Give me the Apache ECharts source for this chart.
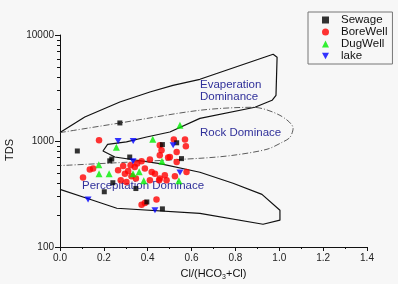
<!DOCTYPE html>
<html>
<head>
<meta charset="utf-8">
<script src="https://cdn.jsdelivr.net/npm/echarts@6/dist/echarts.min.js"></script>
<style>
  html, body { margin: 0; padding: 0; background: #f7f7f7; }
  #chart { width: 398px; height: 284px; }
</style>
</head>
<body>
<div id="chart"></div>
<script>
// sample points, Cl/(HCO3+Cl) vs TDS
var sewageX = [0.079, 0.273, 0.227, 0.236, 0.318, 0.467, 0.532, 0.554, 0.241, 0.202, 0.346, 0.396, 0.467];
var sewageTDS = [805, 1480, 650, 676, 706, 925, 962, 682, 404, 332, 356, 266, 229];

var boreX = [0.178, 0.519, 0.570, 0.455, 0.463, 0.455, 0.532, 0.493, 0.532, 0.410, 0.372, 0.352, 0.322, 0.341,
    0.288, 0.265, 0.311, 0.296, 0.277, 0.303, 0.326, 0.346, 0.387, 0.418, 0.433, 0.455, 0.478, 0.486, 0.524,
    0.577, 0.410, 0.452, 0.151, 0.136, 0.105, 0.372, 0.387, 0.440, 0.574, 0.501];
var boreTDS = [1016, 1031, 1031, 910, 817, 733, 787, 697, 634, 668, 643, 612, 590, 569,
    581, 529, 521, 492, 426, 410, 465, 442, 549, 510, 492, 442, 475, 426, 465,
    510, 426, 426, 549, 537, 452, 251, 260, 280, 891, 706];

var dugX = [0.547, 0.423, 0.257, 0.465, 0.177, 0.178, 0.224, 0.333, 0.361, 0.382, 0.542];
var dugTDS = [1406, 1038, 873, 643, 596, 491, 491, 491, 514, 422, 422];

var lakeX = [0.265, 0.334, 0.516, 0.333, 0.547, 0.128, 0.433];
var lakeTDS = [1000, 1000, 910, 643, 504, 280, 222];

// Gibbs boundary (solid) and rock dominance envelope (dash-dot)
var outerX = [0, 0.113, 0.273, 0.410, 0.515, 0.638, 0.972, 0.990, 0.985, 0.967, 0.889, 0.638, 0.501, 0.395,
    0.303, 0.217, 0.196, 0.250, 0.455, 0.638, 0.789, 0.921, 1.003, 1.003, 0.926, 0.638, 0.259, 0.136, 0];
var outerTDS = [1200, 1683, 2333, 2897, 3350, 3820, 6580, 6170, 2700, 2420, 2080, 1636, 1216, 1091,
    980, 931, 805, 706, 612, 507, 399, 314, 222, 179, 164, 208, 232, 282, 350];
var rockX = [0, 0.273, 0.638, 0.880, 1.003, 1.063, 1.049, 1.013, 0.944, 0.789, 0.638, 0];
var rockTDS = [1200, 1479, 1950, 2080, 1746, 1318, 1084, 972, 836, 733, 687, 586];

var yMinorTicks = [200, 300, 400, 500, 600, 700, 800, 900, 2000, 3000, 4000, 5000, 6000, 7000, 8000, 9000];

function pairs(xs, ys) {
    var res = [];
    for (var i = 0; i < xs.length; i++) {
        res.push([xs[i], ys[i]]);
    }
    return res;
}

var fontFamily = '"Liberation Sans", Arial, sans-serif';
var regionColor = '#30309a';

var _chart = echarts.init(document.getElementById('chart'));
var _option = {
    backgroundColor: '#f7f7f7',
    animation: false,
    textStyle: { fontFamily: fontFamily },
    grid: { left: 60, right: 31, top: 35, bottom: 37, containLabel: false, outerBoundsMode: 'none' },
    legend: {
        orient: 'vertical',
        left: 308,
        top: 12,
        padding: [2, 5, 2, 14],
        itemGap: 0,
        itemWidth: 7,
        itemHeight: 7,
        backgroundColor: '#f7f7f7',
        borderColor: '#777',
        borderWidth: 1,
        borderRadius: 0,
        textStyle: { fontSize: 11.5, color: '#111', lineHeight: 12, padding: [0, 0, 0, 7], fontFamily: fontFamily },
        data: ['Sewage', 'BoreWell', 'DugWell', 'lake']
    },
    xAxis: {
        type: 'value',
        min: 0,
        max: 1.4,
        interval: 0.2,
        name: 'Cl/(HCO{sub|3}+Cl)',
        nameLocation: 'middle',
        nameGap: 20,
        nameTextStyle: {
            fontSize: 11,
            color: '#111',
            rich: {
                sub: { fontSize: 7, color: '#111', padding: [7, 0, 0, 0] }
            }
        },
        axisLine: { show: true, onZero: false, lineStyle: { color: '#111', width: 1 } },
        axisTick: { show: true, inside: false, length: 4, lineStyle: { color: '#111' } },
        minorTick: { show: true, splitNumber: 2, length: 2, lineStyle: { color: '#111' } },
        axisLabel: {
            fontSize: 10,
            color: '#222',
            margin: 6,
            formatter: function(v) { return v.toFixed(1); }
        },
        splitLine: { show: false }
    },
    yAxis: {
        type: 'log',
        logBase: 10,
        min: 100,
        max: 10000,
        name: 'TDS',
        nameLocation: 'middle',
        nameGap: 40,
        nameTextStyle: { fontSize: 11, color: '#111', padding: [0, 0, 0, -18] },
        axisLine: { show: true, onZero: false, lineStyle: { color: '#111', width: 1 } },
        axisTick: { show: true, inside: false, length: 5, lineStyle: { color: '#111' } },
        minorTick: { show: false },
        axisLabel: {
            fontSize: 10,
            color: '#222',
            margin: 6,
            formatter: function(v) { return String(Math.round(v)); }
        },
        splitLine: { show: false }
    },
    graphic: [
        { type: 'text', left: 200, top: 79, style: { text: 'Evaperation\nDominance', fill: regionColor, fontSize: 11.5, lineHeight: 12, fontFamily: fontFamily } },
        { type: 'text', left: 200, top: 127, style: { text: 'Rock Dominace', fill: regionColor, fontSize: 11.5, fontFamily: fontFamily } },
        { type: 'text', left: 82, top: 180, style: { text: 'Percepitation Dominace', fill: regionColor, fontSize: 11.5, fontFamily: fontFamily } }
    ],
    series: [
        {
            name: 'outer',
            type: 'line',
            data: pairs(outerX, outerTDS),
            symbol: 'none',
            silent: true,
            lineStyle: { color: '#111', width: 1.2 },
            z: 1
        },
        {
            name: 'rock',
            type: 'line',
            data: pairs(rockX, rockTDS),
            symbol: 'none',
            smooth: 0.3,
            silent: true,
            lineStyle: { color: '#333', width: 0.8, type: [6, 2, 1, 2] },
            z: 1
        },
        {
            name: 'BoreWell',
            type: 'scatter',
            data: pairs(boreX, boreTDS),
            symbol: 'circle',
            symbolSize: 6.5,
            itemStyle: { color: '#ff0000' },
            z: 4
        },
        {
            name: 'DugWell',
            type: 'scatter',
            data: pairs(dugX, dugTDS),
            symbol: 'triangle',
            symbolSize: 7,
            itemStyle: { color: '#00ee00' },
            z: 5
        },
        {
            name: 'Sewage',
            type: 'scatter',
            data: pairs(sewageX, sewageTDS),
            symbol: 'rect',
            symbolSize: 5,
            itemStyle: { color: '#000000' },
            z: 6
        },
        {
            name: 'lake',
            type: 'scatter',
            data: pairs(lakeX, lakeTDS),
            symbol: 'path://M0,0 L10,0 L5,9 Z',
            symbolSize: [7, 6],
            itemStyle: { color: '#0000ff' },
            z: 7
        }
    ]
};
_chart.setOption(_option);

// log minor ticks on the TDS axis, placed through the chart's own y scale
var minorLines = yMinorTicks.map(function(v) {
    var p = _chart.convertToPixel({ gridIndex: 0 }, [0, v]);
    var y = Math.round(p[1]) + 0.5;
    return {
        type: 'line',
        silent: true,
        z: 10,
        shape: { x1: p[0] - 3, y1: y, x2: p[0], y2: y },
        style: { stroke: '#111', lineWidth: 1 }
    };
});
_chart.setOption({ graphic: _option.graphic.concat(minorLines) });
</script>
</body>
</html>
